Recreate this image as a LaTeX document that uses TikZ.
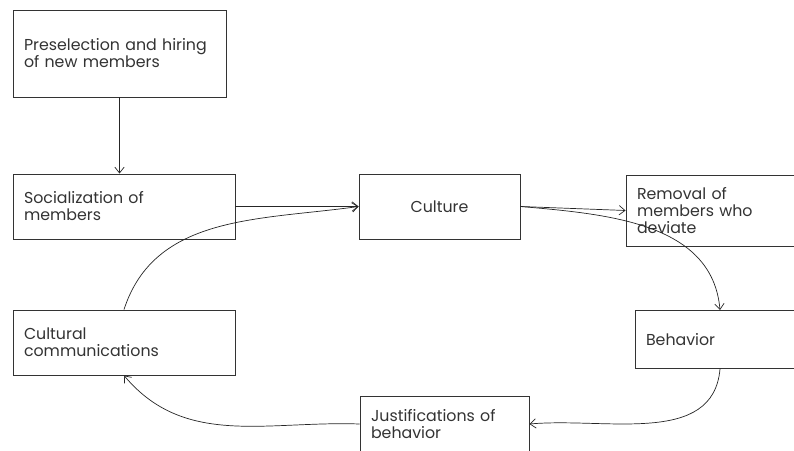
\documentclass[tikz,border=0pt]{standalone}
\usepackage{fontspec}
\setmainfont{Poppins}
\usetikzlibrary{arrows.meta,positioning}
\newcommand{\pu}{0.03cm}
\tikzset{
  blk/.style 2 args={draw=black!80,line width=0.8pt,rectangle,
    minimum height=#2*\pu,text width={(#1-22)*\pu},inner xsep=11*\pu,
    inner ysep=0pt,align=left,font=\fontsize{13.5}{14.5}\selectfont,text=black!80},
  conn/.style={draw=black!85,line width=0.6pt,-{Straight Barb[length=5pt,width=8pt]}}
}
\begin{document}
\begin{tikzpicture}[x=\pu,y=\pu]
\useasboundingbox (0,0) rectangle (794,450);
\clip (0,0) rectangle (794,450);
% \draw[help lines,step=50] (0,0) grid (794,450);
\node (pre) [blk={213}{87}] at (119.5,396.5) {Preselection and hiring\\of new members};
\node (soc) [blk={222}{65}] at (124,243.5) {Socialization of\\members};
\node (cul) [blk={161}{65},align=center] at (439.5,243.5) {Culture};
\node (rem) [blk={184}{71}] at (718,239.5) {Removal of\\members who\\deviate};
\node (beh) [blk={170}{58}] at (720,110.5) {Behavior};
\node (jus) [blk={169}{56}] at (444.5,26) {Justifications of\\behavior};
\node (com) [blk={222}{65}] at (124,107.5) {Cultural\\communications};
%
\draw[conn] (pre.south) -- (pre.south |- soc.north);
\draw[conn] (soc.east) -- (cul.west);
\draw[conn] (cul.east) -- (rem.west);
\draw[conn] (cul.east) to[out=-5,in=95] (beh.north);
\draw[conn] (beh.south) to[out=-95,in=5] (jus.east);
\draw[conn] (jus.west) to[out=178,in=-50] (com.south);
\draw[conn] (com.north) to[out=72,in=188] (cul.west);
\end{tikzpicture}
\end{document}
